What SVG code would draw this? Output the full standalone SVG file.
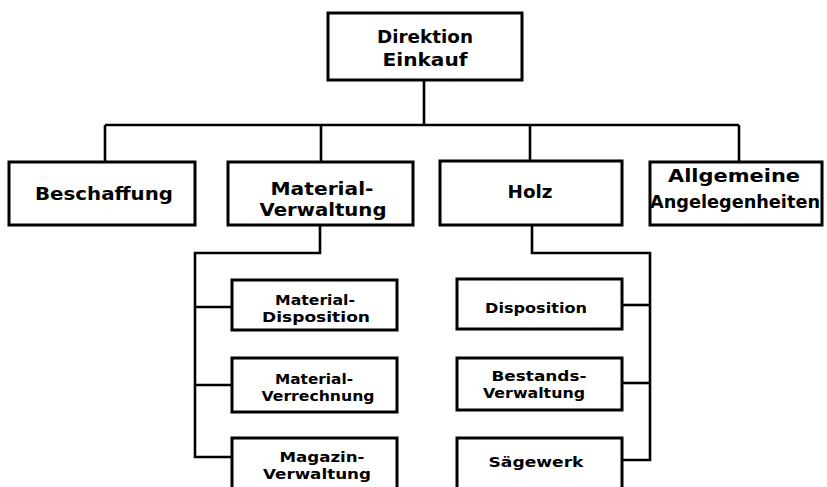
<svg xmlns="http://www.w3.org/2000/svg" width="827" height="487" viewBox="0 0 827 487">
  <style>
    .box { fill: #ffffff; stroke: #000000; stroke-width: 3; }
    .link { fill: none; stroke: #000000; stroke-width: 2.6; stroke-linejoin: miter; }
    .lbl { font-family: "DejaVu Sans", "Liberation Sans", sans-serif; font-weight: bold; fill: #000000; text-anchor: middle; }
    .big { font-size: 18px; }
    .small { font-size: 13.5px; }
  </style>
  <rect width="827" height="487" fill="#ffffff"/>

  <!-- connectors -->
  <g id="connectors">
    <path class="link" d="M424,80 V125"/>
    <path class="link" d="M105,125 H739"/>
    <path class="link" d="M105,125 V162"/>
    <path class="link" d="M321,125 V162"/>
    <path class="link" d="M530,125 V161"/>
    <path class="link" d="M739,125 V162"/>
    <!-- Material-Verwaltung branch -->
    <path class="link" d="M320,225 V253 H195 V457 H232"/>
    <path class="link" d="M195,307 H232"/>
    <path class="link" d="M195,385 H232"/>
    <!-- Holz branch -->
    <path class="link" d="M532,225 V253 H650 V460 H622"/>
    <path class="link" d="M650,305 H622"/>
    <path class="link" d="M650,383 H622"/>
  </g>

  <g id="direktion">
    <rect class="box" x="328" y="13" width="194" height="67"/>
    <text class="lbl big" x="425" y="43" textLength="96" lengthAdjust="spacingAndGlyphs">Direktion</text>
    <text class="lbl big" x="425" y="66" textLength="85" lengthAdjust="spacingAndGlyphs">Einkauf</text>
  </g>

  <g id="beschaffung">
    <rect class="box" x="9" y="162" width="186" height="63"/>
    <text class="lbl big" x="104" y="200" textLength="138" lengthAdjust="spacingAndGlyphs">Beschaffung</text>
  </g>

  <g id="materialverwaltung">
    <rect class="box" x="228" y="162" width="185" height="63"/>
    <text class="lbl big" x="322" y="195" textLength="103" lengthAdjust="spacingAndGlyphs">Material-</text>
    <text class="lbl big" x="323" y="216" textLength="127" lengthAdjust="spacingAndGlyphs">Verwaltung</text>
  </g>

  <g id="holz">
    <rect class="box" x="440" y="161" width="182" height="64"/>
    <text class="lbl big" x="530" y="198" textLength="45" lengthAdjust="spacingAndGlyphs">Holz</text>
  </g>

  <g id="allgemeine">
    <rect class="box" x="650" y="162" width="172" height="63"/>
    <text class="lbl big" x="734" y="182" textLength="132" lengthAdjust="spacingAndGlyphs">Allgemeine</text>
    <text class="lbl big" x="735" y="208" textLength="170" lengthAdjust="spacingAndGlyphs">Angelegenheiten</text>
  </g>

  <g id="materialdisposition">
    <rect class="box" x="232" y="280" width="165" height="50"/>
    <text class="lbl small" x="315" y="305" textLength="80" lengthAdjust="spacingAndGlyphs">Material-</text>
    <text class="lbl small" x="316" y="322" textLength="108" lengthAdjust="spacingAndGlyphs">Disposition</text>
  </g>

  <g id="materialverrechnung">
    <rect class="box" x="232" y="358" width="165" height="54"/>
    <text class="lbl small" x="314" y="384" textLength="78" lengthAdjust="spacingAndGlyphs">Material-</text>
    <text class="lbl small" x="318" y="401" textLength="113" lengthAdjust="spacingAndGlyphs">Verrechnung</text>
  </g>

  <g id="magazinverwaltung">
    <rect class="box" x="232" y="438" width="165" height="56"/>
    <text class="lbl small" x="322" y="462" textLength="85" lengthAdjust="spacingAndGlyphs">Magazin-</text>
    <text class="lbl small" x="317" y="479" textLength="108" lengthAdjust="spacingAndGlyphs">Verwaltung</text>
  </g>

  <g id="disposition">
    <rect class="box" x="457" y="279" width="165" height="50"/>
    <text class="lbl small" x="536" y="313" textLength="102" lengthAdjust="spacingAndGlyphs">Disposition</text>
  </g>

  <g id="bestandsverwaltung">
    <rect class="box" x="457" y="358" width="165" height="52"/>
    <text class="lbl small" x="539" y="381" textLength="95" lengthAdjust="spacingAndGlyphs">Bestands-</text>
    <text class="lbl small" x="534" y="398" textLength="102" lengthAdjust="spacingAndGlyphs">Verwaltung</text>
  </g>

  <g id="saegewerk">
    <rect class="box" x="457" y="438" width="165" height="56"/>
    <text class="lbl small" x="536" y="467" textLength="95" lengthAdjust="spacingAndGlyphs">Sägewerk</text>
  </g>
</svg>
